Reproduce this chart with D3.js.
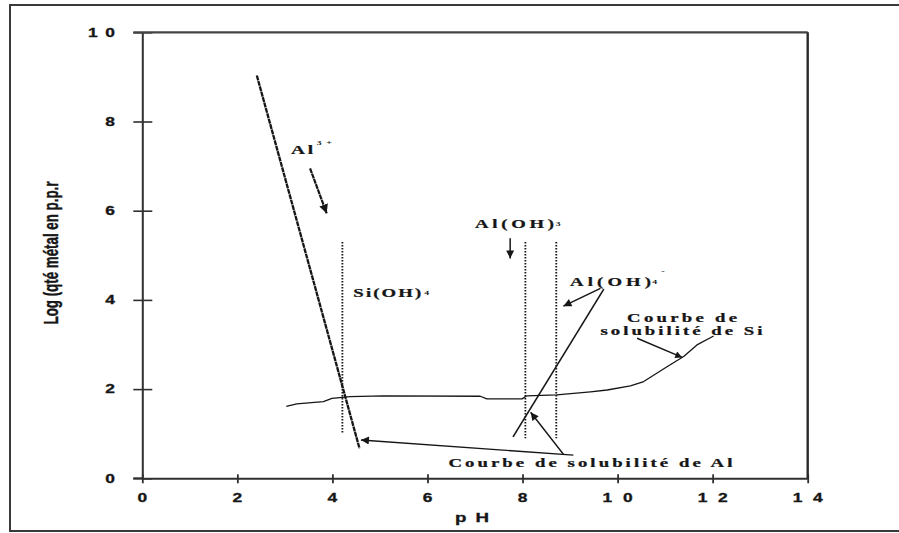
<!DOCTYPE html>
<html>
<head>
<meta charset="utf-8">
<script src="https://cdn.jsdelivr.net/npm/d3@7"></script>
<style>
  body { margin: 0; background: #fff; }
  svg { display: block; }
</style>
</head>
<body>
<svg id="chart" width="899" height="533"></svg>
<script>
// ---- Axis ticks ----
const xTicks = [0, 2, 4, 6, 8, 10, 12, 14];
const xTickLabels = ["0", "2", "4", "6", "8", "10", "12", "14"];
const yTicks = [0, 2, 4, 6, 8, 10];
const yTickLabels = ["0", "2", "4", "6", "8", "10"];

// ---- Al3+ solubility line (pH, log ppm) ----
const alIonPH = [2.41, 4.57];
const alIonLog = [9.03, 0.67];

// ---- Al(OH)4- solubility line ----
const aluminatePH = [7.80, 9.71];
const aluminateLog = [0.93, 4.24];

// ---- Si solubility curve ----
const siPH  = [3.03, 3.25, 3.81, 3.99, 4.37, 5.07, 7.11, 7.25, 7.99, 8.09, 8.72, 9.43, 9.78, 10.27, 10.55, 11.04, 11.39, 11.67, 12.02];
const siLog = [1.61, 1.67, 1.72, 1.79, 1.83, 1.85, 1.84, 1.78, 1.78, 1.85, 1.87, 1.94, 1.98, 2.07, 2.17, 2.50, 2.73, 2.99, 3.19];

// ---- Dotted domain boundaries ----
const boundaryPH = [4.21, 8.06, 8.71];
const boundaryTop = [5.30, 5.30, 5.30];
const boundaryBottom = [1.01, 0.90, 0.90];

// ---- Annotation arrows: [pH from, log from, pH to, log to] ----
const arrowAlIon     = [3.53, 6.95, 3.88, 5.94];
const arrowAlOH3     = [7.74, 5.38, 7.74, 4.93];
const arrowAlOH4     = [9.64, 4.26, 8.86, 3.86];
const arrowSiCurve   = [10.41, 3.14, 11.36, 2.71];
const arrowAlCurveA  = [9.07, 0.52, 4.60, 0.86];
const arrowAlCurveB  = [8.86, 0.54, 8.17, 1.48];

// ---- Layout ----
const svg = d3.select("#chart");
const W = 899, H = 533;
const plot = { left: 142.3, right: 807.7, top: 32.3, bottom: 478.3 };
const ink = "#161616";
const axisInk = "#303030";

const x = d3.scaleLinear().domain([0, 14]).range([plot.left, plot.right]);
const y = d3.scaleLinear().domain([0, 10]).range([plot.bottom, plot.top]);

// Outer frame (open to the right edge)
svg.append("path")
  .attr("d", `M${W + 5},5 H10 V531 H${W + 5}`)
  .attr("fill", "none").attr("stroke", "#3a3a3a").attr("stroke-width", 2);

// Horizontally stretched text helper
const SX = 1.5;
function stext(parent, px, py, str, o) {
  const sx = o.sx || SX;
  const g = parent.append("g").attr("transform", `translate(${px},${py}) scale(${sx},1)${o.rotate ? ` rotate(${o.rotate})` : ""}`);
  const t = g.append("text")
    .attr("x", 0).attr("y", 0)
    .attr("font-family", o.family)
    .attr("font-weight", o.weight || "bold")
    .attr("font-size", o.size)
    .attr("fill", o.fill || ink)
    .attr("text-anchor", o.anchor || "start")
    .text(str);
  if (o.stroke) t.attr("stroke", o.fill || ink).attr("stroke-width", o.stroke);
  if (o.width) {
    const len = o.rotate ? o.width : o.width / sx;
    t.attr("textLength", len).attr("lengthAdjust", o.adjust || "spacing");
  }
  return t;
}

const sansBold = "'Liberation Sans', Arial, sans-serif";
const narrowBold = "'Liberation Sans Narrow', 'Arial Narrow', 'Liberation Sans', Arial, sans-serif";
const serifBold = "'Liberation Serif', 'Times New Roman', serif";

// ---- Axes ----
const yAxis = d3.axisLeft(y).tickValues(yTicks).tickSizeInner(9).tickSizeOuter(0).tickFormat("");
const gy = svg.append("g").attr("transform", `translate(${plot.left},0)`).call(yAxis);
gy.select(".domain").attr("stroke", axisInk).attr("stroke-width", 2);
gy.selectAll(".tick line").attr("x1", 10).attr("stroke", axisInk).attr("stroke-width", 1.6);

const xAxis = d3.axisBottom(x).tickValues(xTicks).tickSizeInner(5).tickSizeOuter(0).tickFormat("");
const gx = svg.append("g").attr("transform", `translate(0,${plot.bottom})`).call(xAxis);
gx.select(".domain").attr("stroke", axisInk).attr("stroke-width", 2);
gx.selectAll(".tick line").attr("y1", -4).attr("stroke", axisInk).attr("stroke-width", 1.8);

// Top and right border of the plot box
svg.append("line")
  .attr("x1", x(0) - 9).attr("x2", x(14)).attr("y1", y(10)).attr("y2", y(10))
  .attr("stroke", "#444").attr("stroke-width", 2.2);
svg.append("line")
  .attr("x1", x(14)).attr("x2", x(14)).attr("y1", y(10)).attr("y2", y(0))
  .attr("stroke", "#2a2a2a").attr("stroke-width", 2.4);
svg.append("line")
  .attr("x1", x(0) - 9).attr("x2", x(0)).attr("y1", y(0)).attr("y2", y(0))
  .attr("stroke", axisInk).attr("stroke-width", 2);

// Tick labels
xTicks.forEach((v, i) => {
  const lab = xTickLabels[i];
  stext(svg, x(v), 502, lab, { family: sansBold, size: 12, sx: 1.45, anchor: "middle", stroke: 0.3, width: lab.length > 1 ? 30 : null });
});
yTicks.forEach((v, i) => {
  const lab = yTickLabels[i];
  stext(svg, 115, y(v) + 4.3, lab, { family: sansBold, size: 12, sx: 1.45, anchor: "end", stroke: 0.3, width: lab.length > 1 ? 27 : null });
});

// Axis titles
stext(svg, 472, 521.5, "pH", { family: sansBold, size: 12.5, anchor: "middle", stroke: 0.3, width: 34 });
stext(svg, 57.5, 253, "Log (qté métal en p.p.r", { family: narrowBold, size: 14, anchor: "middle", rotate: -90, stroke: 0.3, width: 143, adjust: "spacingAndGlyphs" });

// ---- Markers ----
const defs = svg.append("defs");
function marker(id, len, wid) {
  defs.append("marker")
    .attr("id", id)
    .attr("viewBox", "0 0 10 10")
    .attr("refX", 10).attr("refY", 5)
    .attr("markerUnits", "userSpaceOnUse")
    .attr("markerWidth", len).attr("markerHeight", wid)
    .attr("orient", "auto")
    .append("path").attr("d", "M0,0 L10,5 L0,10 Z").attr("fill", ink);
}
marker("headBig", 9, 9);
marker("headMid", 9, 8);
marker("headSmall", 8, 7);

// ---- Data lines ----
const line = d3.line().x(d => x(d[0])).y(d => y(d[1]));

// Dotted domain boundaries
boundaryPH.forEach((p, i) => {
  svg.append("line")
    .attr("x1", x(p)).attr("x2", x(p))
    .attr("y1", y(boundaryTop[i])).attr("y2", y(boundaryBottom[i]))
    .attr("stroke", ink).attr("stroke-width", 1.8)
    .attr("stroke-dasharray", "1.6,1.4");
});

// Si solubility curve
svg.append("path")
  .datum(siPH.map((p, i) => [p, siLog[i]]))
  .attr("d", line)
  .attr("fill", "none").attr("stroke", ink).attr("stroke-width", 1.3)
  .attr("stroke-linejoin", "round");

// Al3+ line
svg.append("path")
  .datum(alIonPH.map((p, i) => [p, alIonLog[i]]))
  .attr("d", line)
  .attr("fill", "none").attr("stroke", ink).attr("stroke-width", 2.3)
  .attr("stroke-dasharray", "5,0.6");

// Al(OH)4- line
svg.append("path")
  .datum(aluminatePH.map((p, i) => [p, aluminateLog[i]]))
  .attr("d", line)
  .attr("fill", "none").attr("stroke", ink).attr("stroke-width", 1.6);

// ---- Arrows ----
function arrow(a, head, w, dash) {
  const p = svg.append("line")
    .attr("x1", x(a[0])).attr("y1", y(a[1]))
    .attr("x2", x(a[2])).attr("y2", y(a[3]))
    .attr("stroke", ink).attr("stroke-width", w)
    .attr("marker-end", `url(#${head})`);
  if (dash) p.attr("stroke-dasharray", dash);
}
arrow(arrowAlIon, "headBig", 2.2, "5,0.6");
arrow(arrowAlOH3, "headMid", 1.5);
arrow(arrowAlOH4, "headMid", 1.5);
arrow(arrowSiCurve, "headSmall", 1.4);
arrow(arrowAlCurveA, "headMid", 1.4);
arrow(arrowAlCurveB, "headMid", 1.4);

// ---- Labels ----
const lab = svg.append("g");
const serifOpts = { family: serifBold, size: 12.5, stroke: 0.25 };
// Al3+
stext(lab, x(3.13), y(7.28), "Al", { ...serifOpts, sx: 1.55, width: 22 });
stext(lab, x(3.67), y(7.47), "3+", { family: serifBold, size: 6.5, width: 15 });
// Al(OH)3
stext(lab, x(7.00), y(5.61), "Al(OH)", { ...serifOpts, width: 79 });
stext(lab, x(8.70), y(5.66), "3", { family: serifBold, size: 6.5 });
// Si(OH)4
stext(lab, x(4.44), y(4.07), "Si(OH)", { ...serifOpts, width: 68 });
stext(lab, x(5.93), y(4.12), "4", { family: serifBold, size: 6.5 });
// Al(OH)4-
stext(lab, x(9.00), y(4.31), "Al(OH)", { ...serifOpts, width: 81 });
stext(lab, x(10.73), y(4.36), "4", { family: serifBold, size: 6.5 });
stext(lab, x(10.92), y(4.60), "-", { family: serifBold, size: 7 });
// Si solubility label
stext(lab, x(10.20), y(3.51), "Courbe de", { ...serifOpts, width: 110 });
stext(lab, x(9.64), y(3.21), "solubilité de Si", { ...serifOpts, width: 162 });
// Al solubility label
stext(lab, x(6.44), y(0.25), "Courbe de solubilité de Al", { ...serifOpts, width: 284 });
</script>
</body>
</html>
